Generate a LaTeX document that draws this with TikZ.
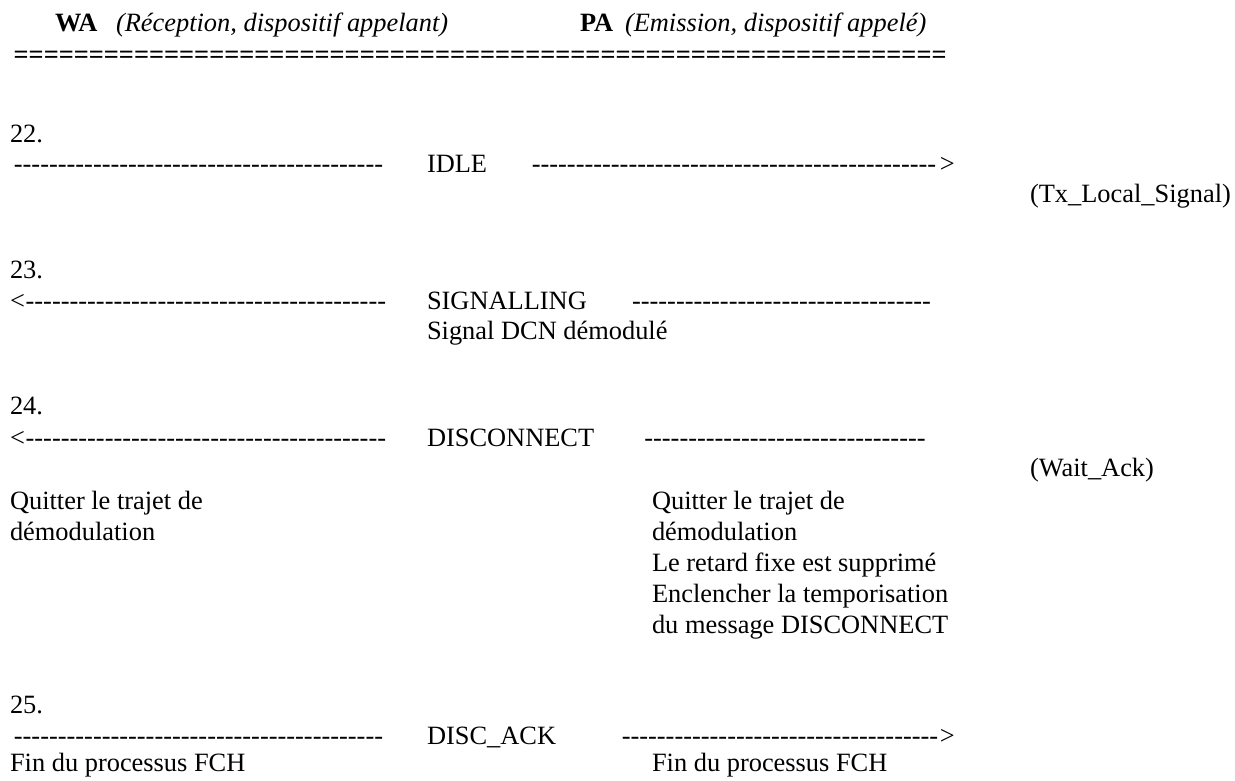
\documentclass[tikz,border=0pt]{standalone}
\usepackage{fontspec}
\setmainfont{Liberation Serif}
\newcommand\hyphfill[1]{\hbox to #1{\cleaders\hbox{-}\hfill}}
\newcommand\eqfill[1]{\hbox to #1{\cleaders\hbox{\bfseries =}\hfill}}
\begin{document}
\begin{tikzpicture}[x=1pt,y=-1pt,
  txt/.style={anchor=base west, inner sep=0pt, outer sep=0pt, font=\fontsize{26.4}{30.4}\selectfont}]
\useasboundingbox (0,0) rectangle (1235,780);
% header
\node[txt] (wa) at (55,31) {\textbf{WA}};
\node[txt] (wadesc) at (116,31) {\textit{(Réception, dispositif appelant)}};
\node[txt] (pa) at (580,31) {\textbf{PA}};
\node[txt] (padesc) at (625,31) {\textit{(Emission, dispositif appelé)}};
\node[txt] (eq) at (10,63) {\eqfill{940pt}};
% 22
\node[txt] (n22) at (10,142) {22.};
\node[txt] (idleL) at (10,172) {\hyphfill{377pt}};
\node[txt] (idle) at (427,172) {IDLE};
\node[txt] (idleR) at (528,172) {\hyphfill{412pt}>};
\node[txt] (tx) at (1030,202) {(Tx\_Local\_Signal)};
% 23
\node[txt] (n23) at (10,278) {23.};
\node[txt] (sigL) at (10,309) {<\hyphfill{362pt}};
\node[txt] (sig) at (427,309) {SIGNALLING};
\node[txt] (sigR) at (628,309) {\hyphfill{307pt}};
\node[txt] (sigdcn) at (427,339) {Signal DCN démodulé};
% 24
\node[txt] (n24) at (10,414) {24.};
\node[txt] (discL) at (10,446) {<\hyphfill{362pt}};
\node[txt] (disc) at (427,446) {DISCONNECT};
\node[txt] (discR) at (640,446) {\hyphfill{290pt}};
\node[txt] (wait) at (1030,476) {(Wait\_Ack)};
\node[txt] (wq1) at (10,509) {Quitter le trajet de};
\node[txt] (wq2) at (10,540) {démodulation};
\node[txt] (pq1) at (652,509) {Quitter le trajet de};
\node[txt] (pq2) at (652,540) {démodulation};
\node[txt] (pq3) at (652,571) {Le retard fixe est supprimé};
\node[txt] (pq4) at (652,602) {Enclencher la temporisation};
\node[txt] (pq5) at (652,633) {du message DISCONNECT};
% 25
\node[txt] (n25) at (10,713) {25.};
\node[txt] (ackL) at (10,744) {\hyphfill{377pt}};
\node[txt] (ack) at (427,744) {DISC\_ACK};
\node[txt] (ackR) at (620,744) {\hyphfill{320pt}>};
\node[txt] (wfin) at (10,771) {Fin du processus FCH};
\node[txt] (pfin) at (652,771) {Fin du processus FCH};
\end{tikzpicture}
\end{document}
